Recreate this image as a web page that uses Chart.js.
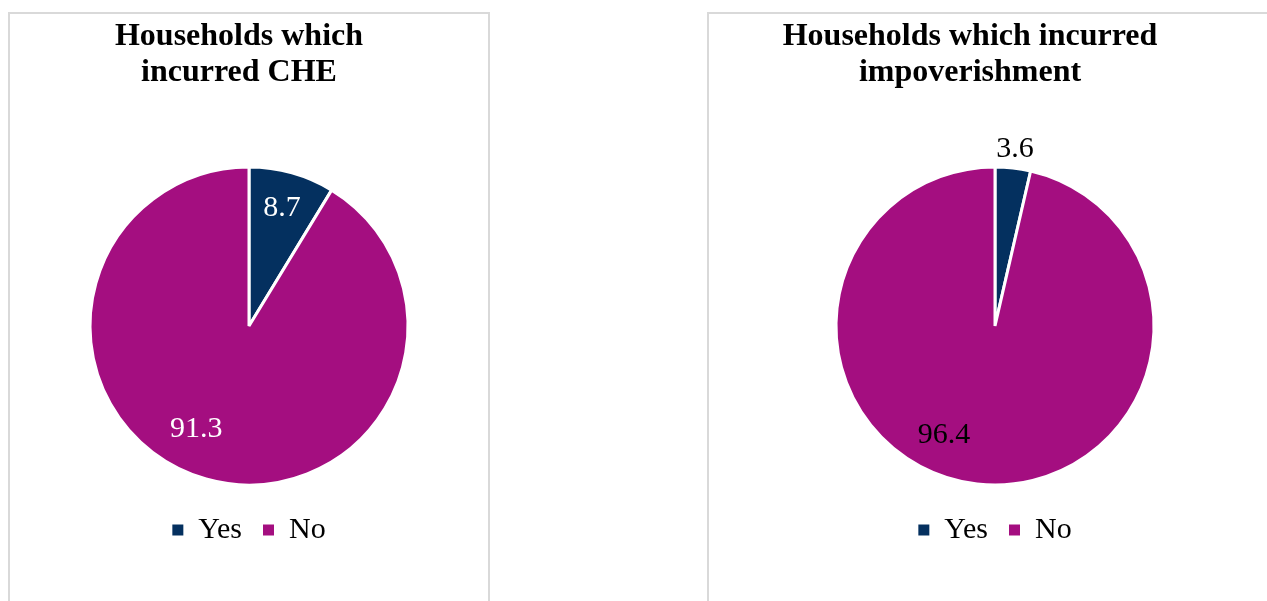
<!DOCTYPE html>
<html>
<head>
<meta charset="utf-8">
<title>Households which incurred CHE and impoverishment</title>
<script src="https://cdn.jsdelivr.net/npm/chart.js@4.4.1/dist/chart.umd.min.js"></script>
<style>
  body {
    margin: 0;
    background: #fff;
    width: 1267px;
    height: 601px;
    overflow: hidden;
    position: relative;
  }
  .panel {
    position: absolute;
    top: 12px;
    height: 620px;
    border: 2px solid #d9d9d9;
  }
  #panel-che { left: 8px; width: 478px; }
  #panel-imp { left: 707px; width: 620px; }
  canvas { position: absolute; top: 12px; }
  #che-chart { left: 10px; }
  #imp-chart { left: 710px; }
</style>
</head>
<body>
<div class="panel" id="panel-che"></div>
<div class="panel" id="panel-imp"></div>
<canvas id="che-chart" width="478" height="589"></canvas>
<canvas id="imp-chart" width="570" height="589"></canvas>

<script>
const legendLabels = ["Yes", "No"];
const cheShares = [8.7, 91.3];
const impShares = [3.6, 96.4];
const cheTitle = ["Households which", "incurred CHE"];
const impTitle = ["Households which incurred", "impoverishment"];
const sliceColors = ["#04305f", "#a40e80"];

const serif = "'Liberation Serif', 'Times New Roman', serif";

// writes each slice's percentage on (or just outside) the pie
const sliceLabels = {
  id: "sliceLabels",
  afterDatasetsDraw(chart, args, opts) {
    const ctx = chart.ctx;
    const meta = chart.getDatasetMeta(0);
    const values = chart.data.datasets[0].data;
    ctx.save();
    ctx.font = "30px " + serif;
    ctx.fillStyle = opts.color;
    ctx.textAlign = "center";
    ctx.textBaseline = "middle";
    meta.data.forEach((arc, i) => {
      const { x, y, startAngle, endAngle, outerRadius } = arc.getProps(
        ["x", "y", "startAngle", "endAngle", "outerRadius"], true);
      const place = opts.placement[i] || {};
      // deg is measured clockwise from 12 o'clock
      const angle = place.deg !== undefined
        ? (place.deg - 90) * Math.PI / 180
        : (startAngle + endAngle) / 2;
      const r = outerRadius * (place.r !== undefined ? place.r : 0.75);
      ctx.fillText(values[i].toFixed(1), x + Math.cos(angle) * r, y + Math.sin(angle) * r);
    });
    ctx.restore();
  }
};

// nudges the title block sideways without moving the pie
const titleShift = {
  id: "titleShift",
  afterLayout(chart, args, opts) {
    const t = chart.titleBlock;
    if (t && opts.dx) {
      t.left += opts.dx;
      t.right += opts.dx;
    }
  }
};

// legend squares are solid, without the white slice outline
function solidLegendItems(chart) {
  const items = Chart.overrides.pie.plugins.legend.labels.generateLabels(chart);
  items.forEach((item) => {
    item.lineWidth = 0;
    item.strokeStyle = item.fillStyle;
  });
  return items;
}

function makePie(canvasId, shares, title, labelColor, placement, titleDx) {
  return new Chart(document.getElementById(canvasId), {
    type: "pie",
    data: {
      labels: legendLabels,
      datasets: [{
        data: shares,
        backgroundColor: sliceColors,
        borderColor: "#ffffff",
        borderWidth: 3,
        radius: 159
      }]
    },
    options: {
      responsive: false,
      animation: false,
      layout: { padding: { bottom: 46 } },
      plugins: {
        title: {
          display: true,
          text: title,
          color: "#000",
          font: { family: serif, size: 32, weight: "bold", lineHeight: 1.1 },
          padding: { top: 7.5, bottom: 68 }
        },
        legend: {
          position: "bottom",
          labels: {
            boxWidth: 11,
            boxHeight: 11,
            padding: 21,
            color: "#000",
            font: { family: serif, size: 30 },
            generateLabels: solidLegendItems
          }
        },
        tooltip: { enabled: false },
        sliceLabels: { color: labelColor, placement: placement },
        titleShift: { dx: titleDx }
      }
    },
    plugins: [sliceLabels, titleShift]
  });
}

makePie("che-chart", cheShares, cheTitle, "#ffffff",
  [{ r: 0.77 }, { r: 0.73, deg: 207 }], -10);
makePie("imp-chart", impShares, impTitle, "#000000",
  [{ r: 1.12 }, { r: 0.76, deg: 205 }], -25);
</script>
</body>
</html>
